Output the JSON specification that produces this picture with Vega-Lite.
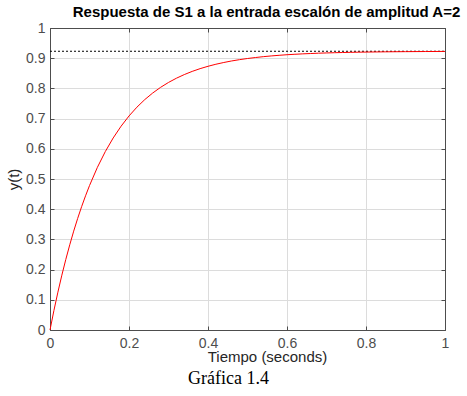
{
  "$schema": "https://vega.github.io/schema/vega-lite/v6.json",
  "autosize": "none",
  "width": 395,
  "height": 302,
  "padding": {"left": 50, "top": 28, "right": 22, "bottom": 66},
  "background": "white",
  "view": {"stroke": "#4d4d4d", "strokeWidth": 1},
  "config": {
    "font": "Liberation Sans"
  },
  "title": {
    "text": "Gráfica 1.4",
    "orient": "bottom",
    "anchor": "middle",
    "dx": -19,
    "font": "Liberation Serif",
    "fontSize": 18,
    "fontWeight": "normal",
    "color": "black",
    "baseline": "alphabetic",
    "offset": 20
  },
  "datasets": {
    "resp": [
      {"t": 0, "y": 0}, {"t": 0.01, "y": 0.065}, {"t": 0.02, "y": 0.1253}, {"t": 0.03, "y": 0.1816},
      {"t": 0.04, "y": 0.2337}, {"t": 0.05, "y": 0.2822}, {"t": 0.06, "y": 0.3274}, {"t": 0.07, "y": 0.3693},
      {"t": 0.08, "y": 0.4083}, {"t": 0.09, "y": 0.4444}, {"t": 0.1, "y": 0.4782}, {"t": 0.12, "y": 0.5386},
      {"t": 0.14, "y": 0.5908}, {"t": 0.16, "y": 0.6359}, {"t": 0.18, "y": 0.6749}, {"t": 0.2, "y": 0.7087},
      {"t": 0.22, "y": 0.7378}, {"t": 0.24, "y": 0.763}, {"t": 0.26, "y": 0.7847}, {"t": 0.28, "y": 0.8035},
      {"t": 0.3, "y": 0.8197}, {"t": 0.32, "y": 0.8337}, {"t": 0.34, "y": 0.8458}, {"t": 0.36, "y": 0.8563},
      {"t": 0.38, "y": 0.8654}, {"t": 0.4, "y": 0.8732}, {"t": 0.42, "y": 0.88}, {"t": 0.44, "y": 0.8858},
      {"t": 0.46, "y": 0.8909}, {"t": 0.48, "y": 0.8952}, {"t": 0.5, "y": 0.899}, {"t": 0.52, "y": 0.9022},
      {"t": 0.54, "y": 0.9051}, {"t": 0.56, "y": 0.9075}, {"t": 0.58, "y": 0.9096}, {"t": 0.6, "y": 0.9115},
      {"t": 0.62, "y": 0.913}, {"t": 0.64, "y": 0.9144}, {"t": 0.66, "y": 0.9155}, {"t": 0.68, "y": 0.9166},
      {"t": 0.7, "y": 0.9174}, {"t": 0.72, "y": 0.9182}, {"t": 0.74, "y": 0.9188}, {"t": 0.76, "y": 0.9194},
      {"t": 0.78, "y": 0.9199}, {"t": 0.8, "y": 0.9203}, {"t": 0.85, "y": 0.9211}, {"t": 0.9, "y": 0.9217},
      {"t": 0.95, "y": 0.9221}, {"t": 1, "y": 0.9224}
    ],
    "ref": [{"t": 0, "y": 0.923}, {"t": 1, "y": 0.923}]
  },
  "resolve": {"axis": {"x": "independent", "y": "independent"}},
  "layer": [
    {
      "data": {"name": "ref"},
      "mark": {"type": "line", "color": "black", "strokeWidth": 1, "strokeDash": [2, 2]},
      "encoding": {
        "x": {"field": "t", "type": "quantitative", "scale": {"domain": [0, 1], "nice": false},
          "axis": {
            "values": [0, 0.2, 0.4, 0.6, 0.8, 1], "format": "~g",
            "title": "Tiempo (seconds)", "titleFontSize": 15, "titleFontWeight": "normal", "titleColor": "#262626",
            "titleX": 217, "titleY": 31, "titleBaseline": "alphabetic", "titleAlign": "center",
            "labelFontSize": 14, "labelColor": "#4d4d4d", "labelPadding": 10, "labelOverlap": false,
            "domain": true, "domainColor": "#4d4d4d", "ticks": true, "tickSize": -4, "tickColor": "#4d4d4d",
            "gridColor": "#dcdcdc", "labelFlush": false
          }},
        "y": {"field": "y", "type": "quantitative", "scale": {"domain": [0, 1], "nice": false},
          "axis": {
            "values": [0, 0.1, 0.2, 0.3, 0.4, 0.5, 0.6, 0.7, 0.8, 0.9, 1], "format": "~g",
            "title": "y(t)", "titleFontSize": 15, "titleFontWeight": "normal", "titleColor": "#262626", "titlePadding": 4,
            "labelFontSize": 14, "labelColor": "#4d4d4d", "labelPadding": 9, "labelOverlap": false,
            "domain": true, "domainColor": "#4d4d4d", "ticks": true, "tickSize": -4, "tickColor": "#4d4d4d",
            "gridColor": "#dcdcdc", "labelFlush": false
          }}
      }
    },
    {
      "data": {"name": "resp"},
      "mark": {"type": "line", "color": "#ff0000", "strokeWidth": 1},
      "encoding": {
        "x": {"field": "t", "type": "quantitative",
          "axis": {
            "orient": "top", "labels": false, "domain": true, "domainColor": "#4d4d4d", "grid": false,
            "values": [0, 0.2, 0.4, 0.6, 0.8, 1], "ticks": true, "tickSize": -4, "tickColor": "#4d4d4d",
            "title": "Respuesta de S1 a la entrada escalón de amplitud A=2",
            "titleFontSize": 15, "titleFontWeight": "bold", "titleColor": "black",
            "titleX": 216, "titleY": -12, "titleBaseline": "alphabetic", "titleAlign": "center"
          }},
        "y": {"field": "y", "type": "quantitative",
          "axis": {
            "orient": "right", "labels": false, "domain": true, "domainColor": "#4d4d4d", "grid": false,
            "values": [0, 0.1, 0.2, 0.3, 0.4, 0.5, 0.6, 0.7, 0.8, 0.9, 1], "ticks": true, "tickSize": -4, "tickColor": "#4d4d4d",
            "title": null
          }}
      }
    }
  ]
}
